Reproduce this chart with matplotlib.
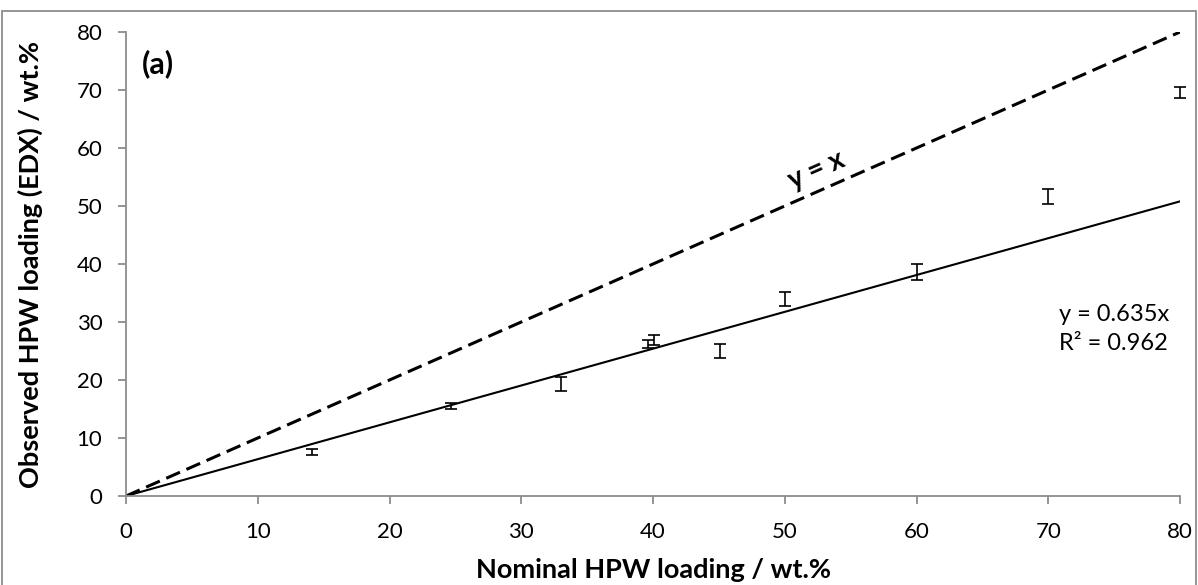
import matplotlib
matplotlib.use("Agg")
import matplotlib.pyplot as plt
from matplotlib.patches import Rectangle
import numpy as np

# Data
nominal = [14.1, 24.7, 33.0, 39.6, 40.1, 45.1, 50.0, 60.0, 70.0, 80.0]
observed = [7.6, 15.5, 19.3, 26.2, 26.9, 25.0, 34.0, 38.6, 51.6, 69.6]
errors = [0.55, 0.5, 1.2, 0.7, 0.8, 1.15, 1.2, 1.4, 1.3, 0.9]
fit_slope = 0.635
fit_r2 = 0.962
x_ticks = [0, 10, 20, 30, 40, 50, 60, 70, 80]
y_ticks = [0, 10, 20, 30, 40, 50, 60, 70, 80]

plt.rcParams['font.family'] = ['Lato', 'DejaVu Sans']
gray = '#8c8c8c'

fig = plt.figure(figsize=(11.98, 5.85), dpi=100)
ax = fig.add_axes([126/1198, 1-496/585, (1180-126)/1198, (496-32)/585])

# y = x dashed line
xl = np.array([0, 80])
ax.plot(xl, xl, color='black', lw=2.2, dashes=(4.9, 2.3), solid_capstyle='butt', dash_capstyle='butt')
# regression line
ax.plot(xl, fit_slope * xl, color='black', lw=1.5)
# error bars
ax.errorbar(nominal, observed, yerr=errors, fmt='none', ecolor='black',
            elinewidth=1.2, capsize=4.3, capthick=1.2, clip_on=False, zorder=5)

ax.set_xlim(0, 80)
ax.set_ylim(0, 80)
ax.set_xticks(x_ticks)
ax.set_yticks(y_ticks)
for s in ['top', 'right']:
    ax.spines[s].set_visible(False)
for s in ['left', 'bottom']:
    ax.spines[s].set_color(gray)
    ax.spines[s].set_linewidth(1.3)
ax.tick_params(axis='both', direction='out', length=6, width=1.3, color=gray,
               labelsize=16, labelcolor='black')
ax.tick_params(axis='y', pad=11)
ax.tick_params(axis='x', pad=13)

ax.set_xlabel('Nominal HPW loading / wt.%', fontsize=19.5, fontweight='bold', labelpad=11)
ax.set_ylabel('Observed HPW loading (EDX) / wt.%', fontsize=19.5, fontweight='bold', labelpad=24)

ax.text(1.2, 74.5, '(a)', fontsize=22, fontweight='bold', ha='left', va='center')
ax.text(52.4, 56.2, 'y = x', fontsize=20, fontweight='bold', ha='center', va='center',
        rotation=23.8, rotation_mode='anchor')
ax.text(70.8, 28.8, 'y = 0.635x\nR² = 0.962', fontsize=17, ha='left', va='center',
        linespacing=1.45)

fig.patches.append(Rectangle((2/1198, -3/585), 1194/1198, (574+3)/585, transform=fig.transFigure,
                             fill=False, edgecolor=gray, lw=1.3, clip_on=False))

fig.savefig('out.png', dpi=100)
